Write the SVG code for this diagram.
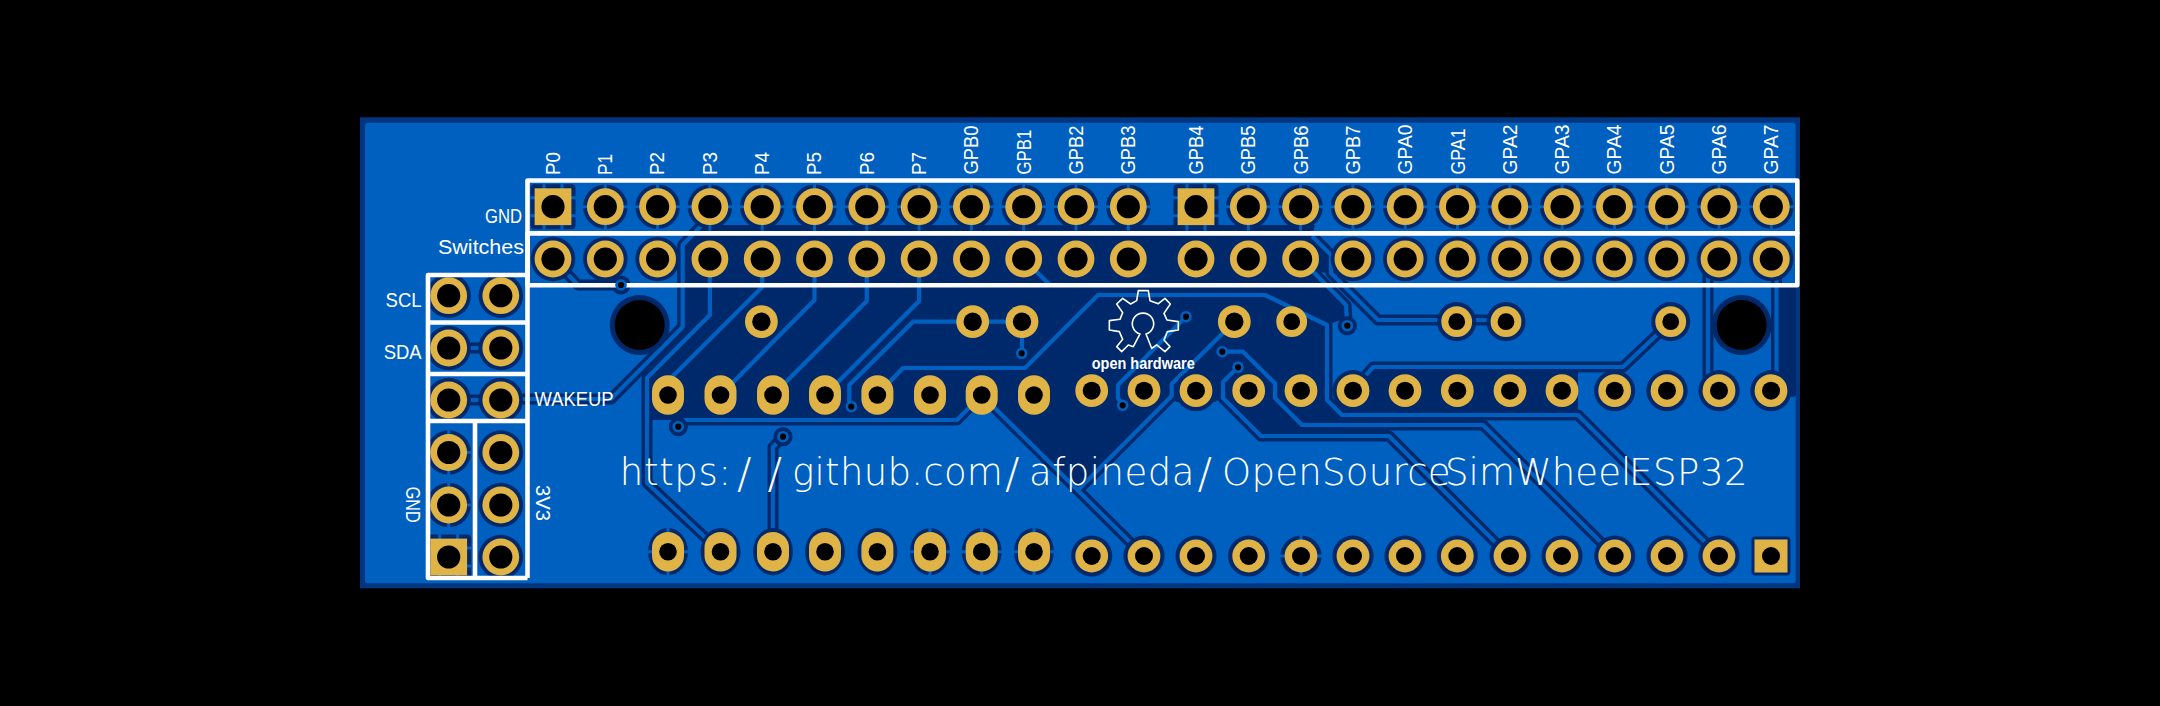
<svg xmlns="http://www.w3.org/2000/svg" width="2160" height="706" viewBox="0 0 2160 706">
<style>
.d{fill:#00296B}
.l{stroke:#0060BF;stroke-width:3;fill:none}
.pad{fill:#DFB346}
.h{fill:#000}
.w{fill:none;stroke:#fff;stroke-width:4.6;stroke-linejoin:round}
text{fill:#fff;font-family:"Liberation Sans",Arial,sans-serif}
.s{font-size:20px}
.u{font-family:"DejaVu Sans",sans-serif;font-weight:200;font-size:37px}
.oh{font-size:16px;font-weight:700}
.sl{font-size:43px}
</style>
<defs>
<g id="ringT"><circle r="22.3" class="d"/><path class="l" d="M-24 0H24M0-24V24"/></g>
<g id="ringF"><circle r="22.3" class="d"/></g>
<g id="ringM"><circle r="20.6" class="d"/></g>
<g id="ringMT"><circle r="20.6" class="d"/><path class="l" d="M-22 0H22M0-22V22"/></g>
<g id="ringO"><ellipse rx="20" ry="23.7" class="d"/></g>
<g id="ringOT"><ellipse rx="20" ry="23.7" class="d"/><path class="l" d="M-22 0H22M0-26V26"/></g>
<g id="ringS"><rect x="-22.5" y="-22.5" width="45" height="45" rx="4" class="d"/><path class="l" d="M-24-9H24M-24 9H24M-9-24V24M9-24V24" /></g>
<g id="ringV"><circle r="19.6" class="d"/></g>
<g id="big"><circle r="18.4" class="pad"/><circle r="11.6" class="h"/></g>
<g id="sq"><rect x="-18.4" y="-18.4" width="36.8" height="36.8" class="pad"/><circle r="11.6" class="h"/></g>
<g id="mid"><circle r="16.4" class="pad"/><circle r="9.2" class="h"/></g>
<g id="mid2"><circle r="15.4" class="pad"/><circle r="8.4" class="h"/></g>
<g id="oval"><rect x="-16" y="-19.8" width="32" height="39.6" rx="16" class="pad"/><circle r="8.8" class="h"/></g>
<g id="rnd"><circle r="16.4" class="pad"/><circle r="9" class="h"/></g>
<g id="via"><circle r="5.8" fill="#0060BF"/><circle r="3.1" class="h"/></g>
<g id="viaR"><circle r="9.6" class="d"/></g>
<g id="tr" fill="none" stroke-linejoin="round">
<path d="M709.9 259V315L647 378V483L720.5 551.7"/>
<path d="M701 226L682.7 245V327L611 399H500.8"/>
<path d="M762.2 259V287L668 381"/>
<path d="M814.5 259V300L720.5 395"/>
<path d="M866.8 259V301L773 395"/>
<path d="M919.1 259V301L825 395"/>
<path d="M1022 321.7H913L849.3 385V402L851.3 406.7"/>
<path d="M877.4 395L903 368H1025L1098 295H1265L1327 325V400L1342 415H1578L1719 556"/>
<path d="M1312 236L1331 255V273L1378 320H1506"/>
<path d="M1300.6 259L1346 305L1347.3 325.7"/>
<path d="M1023.7 259L1050 285"/>
<path d="M1238 367L1223 382V398L1261 436H1389L1509 556"/>
<path d="M1222.3 351.7H1243L1275 383.3V398L1302 425H1483L1614.7 556"/>
<path d="M678.3 426.7L685 420H957L981.7 395"/>
<path d="M783 436.7L773 447V551.7"/>
<path d="M981.7 395L1144 556"/>
<path d="M1234.3 321.7L1171.7 384V396L1079 489"/>
<path d="M1186 316.7L1118 385V398L1122.7 405.3"/>
<path d="M1022 321.7V353.3"/>
<path d="M1353 390.7L1373 367H1623L1670.7 321.7"/>
<path d="M1719 259L1708 270V380L1719 390.7"/>
<path d="M1771 259L1776.5 265V385L1771 390.7"/>
<path d="M553 259L578 285H621"/>
<path d="M448.7 348H500.8"/>
<path d="M448.7 400H500.8"/>
</g>
</defs>
<rect width="2160" height="706" fill="#000"/>
<g id="board">
<rect x="360" y="117.3" width="1440" height="471" fill="#00357F"/>
<rect x="365" y="122.7" width="1430.7" height="460.6" rx="3" fill="#0060BF"/>
<path class="d" d="M701 225L682.7 245V327L650 360L647 378V420H957L972 405H990L1076.5 490.5L1172 396L1176 402H1215L1223 398L1256 436H1389V420H1342L1327 400V325L1346 318V306L1312 272L1331 273V255L1312 236L1315 225Z"/>
<path class="d" d="M1368 371H1578V412H1345V395Z"/>
<rect x="1780" y="285" width="16" height="112" rx="3" class="d"/>
</g>
<g id="connectors">
<use href="#tr" stroke="#00296B" stroke-width="11"/>
<use href="#tr" stroke="#0060BF" stroke-width="4.2"/>
</g>
<g id="clearances">
<use href="#ringS" x="553" y="206.7"/>
<use href="#ringT" x="605.3" y="206.7"/><use href="#ringT" x="657.6" y="206.7"/><use href="#ringT" x="709.9" y="206.7"/><use href="#ringT" x="762.2" y="206.7"/><use href="#ringT" x="814.5" y="206.7"/><use href="#ringT" x="866.8" y="206.7"/><use href="#ringT" x="919.1" y="206.7"/><use href="#ringT" x="971.4" y="206.7"/><use href="#ringT" x="1023.7" y="206.7"/><use href="#ringT" x="1076" y="206.7"/><use href="#ringT" x="1128.3" y="206.7"/>
<use href="#ringS" x="1196" y="206.7"/>
<use href="#ringT" x="1248.3" y="206.7"/><use href="#ringT" x="1300.6" y="206.7"/><use href="#ringT" x="1352.9" y="206.7"/><use href="#ringT" x="1405.2" y="206.7"/><use href="#ringT" x="1457.5" y="206.7"/><use href="#ringT" x="1509.8" y="206.7"/><use href="#ringT" x="1562.1" y="206.7"/><use href="#ringT" x="1614.4" y="206.7"/><use href="#ringT" x="1666.7" y="206.7"/><use href="#ringT" x="1719" y="206.7"/><use href="#ringT" x="1771.3" y="206.7"/>
<use href="#ringF" x="553" y="259"/><use href="#ringF" x="605.3" y="259"/><use href="#ringF" x="657.6" y="259"/>
<use href="#ringF" x="1352.9" y="259"/><use href="#ringF" x="1405.2" y="259"/><use href="#ringF" x="1457.5" y="259"/><use href="#ringF" x="1509.8" y="259"/><use href="#ringF" x="1562.1" y="259"/><use href="#ringF" x="1614.4" y="259"/><use href="#ringF" x="1666.7" y="259"/><use href="#ringF" x="1719" y="259"/><use href="#ringF" x="1771.3" y="259"/>
<use href="#ringF" x="448.7" y="295.7"/><use href="#ringF" x="500.8" y="295.7"/><use href="#ringF" x="448.7" y="348"/><use href="#ringF" x="500.8" y="348"/><use href="#ringF" x="448.7" y="400"/><use href="#ringF" x="500.8" y="400"/>
<use href="#ringT" x="448.7" y="452.5"/><use href="#ringT" x="448.7" y="505"/><use href="#ringS" x="448.7" y="557"/>
<use href="#ringF" x="500.8" y="452.5"/><use href="#ringF" x="500.8" y="505"/><use href="#ringF" x="500.8" y="557"/>
<use href="#ringV" x="1456.7" y="321.7"/><use href="#ringV" x="1506" y="321.7"/><use href="#ringV" x="1670.7" y="321.7"/>
<use href="#ringM" x="1196" y="390.7"/><use href="#ringM" x="1353" y="390.7"/><use href="#ringM" x="1614.7" y="390.7"/><use href="#ringM" x="1667" y="390.7"/><use href="#ringM" x="1719" y="390.7"/><use href="#ringM" x="1771" y="390.7"/>
<use href="#ringOT" x="668" y="551.7"/><use href="#ringO" x="720.5" y="551.7"/><use href="#ringO" x="773" y="551.7"/><use href="#ringO" x="825" y="551.7"/><use href="#ringO" x="877.4" y="551.7"/><use href="#ringOT" x="930" y="551.7"/><use href="#ringOT" x="981.7" y="551.7"/><use href="#ringOT" x="1034" y="551.7"/>
<use href="#ringM" x="1091.7" y="556"/><use href="#ringM" x="1144" y="556"/><use href="#ringM" x="1196" y="556"/><use href="#ringM" x="1248.7" y="556"/><use href="#ringMT" x="1301" y="556"/><use href="#ringM" x="1353" y="556"/><use href="#ringM" x="1405" y="556"/><use href="#ringM" x="1457.3" y="556"/><use href="#ringM" x="1510" y="556"/><use href="#ringM" x="1562" y="556"/><use href="#ringM" x="1614.7" y="556"/><use href="#ringM" x="1667" y="556"/><use href="#ringM" x="1719" y="556"/>
<rect x="1751.5" y="536.5" width="39" height="39" rx="4" class="d"/>
<circle cx="639.7" cy="325" r="30" class="d"/><circle cx="1741.7" cy="325" r="30" class="d"/>
<use href="#viaR" x="621" y="285"/><use href="#viaR" x="678.3" y="426.7"/><use href="#viaR" x="783" y="436.7"/><use href="#viaR" x="1347.3" y="325.7"/>
</g>
<g id="frames">
<rect class="w" x="527.5" y="180.5" width="1269.8" height="52.8"/>
<rect class="w" x="527.5" y="233.3" width="1269.8" height="52"/>
<path class="w" d="M527.5 275H428V578H527.5M428 322.5H527.5M428 374H527.5M428 421H527.5M475 421V578"/>
<path class="w" d="M527.5 233V578"/>
</g>
<g id="pads">
<use href="#sq" x="553" y="206.7"/>
<use href="#big" x="605.3" y="206.7"/><use href="#big" x="657.6" y="206.7"/><use href="#big" x="709.9" y="206.7"/><use href="#big" x="762.2" y="206.7"/><use href="#big" x="814.5" y="206.7"/><use href="#big" x="866.8" y="206.7"/><use href="#big" x="919.1" y="206.7"/><use href="#big" x="971.4" y="206.7"/><use href="#big" x="1023.7" y="206.7"/><use href="#big" x="1076" y="206.7"/><use href="#big" x="1128.3" y="206.7"/>
<use href="#sq" x="1196" y="206.7"/>
<use href="#big" x="1248.3" y="206.7"/><use href="#big" x="1300.6" y="206.7"/><use href="#big" x="1352.9" y="206.7"/><use href="#big" x="1405.2" y="206.7"/><use href="#big" x="1457.5" y="206.7"/><use href="#big" x="1509.8" y="206.7"/><use href="#big" x="1562.1" y="206.7"/><use href="#big" x="1614.4" y="206.7"/><use href="#big" x="1666.7" y="206.7"/><use href="#big" x="1719" y="206.7"/><use href="#big" x="1771.3" y="206.7"/>
<use href="#big" x="553" y="259"/><use href="#big" x="605.3" y="259"/><use href="#big" x="657.6" y="259"/><use href="#big" x="709.9" y="259"/><use href="#big" x="762.2" y="259"/><use href="#big" x="814.5" y="259"/><use href="#big" x="866.8" y="259"/><use href="#big" x="919.1" y="259"/><use href="#big" x="971.4" y="259"/><use href="#big" x="1023.7" y="259"/><use href="#big" x="1076" y="259"/><use href="#big" x="1128.3" y="259"/><use href="#big" x="1196" y="259"/><use href="#big" x="1248.3" y="259"/><use href="#big" x="1300.6" y="259"/><use href="#big" x="1352.9" y="259"/><use href="#big" x="1405.2" y="259"/><use href="#big" x="1457.5" y="259"/><use href="#big" x="1509.8" y="259"/><use href="#big" x="1562.1" y="259"/><use href="#big" x="1614.4" y="259"/><use href="#big" x="1666.7" y="259"/><use href="#big" x="1719" y="259"/><use href="#big" x="1771.3" y="259"/>
<use href="#big" x="448.7" y="295.7"/><use href="#big" x="500.8" y="295.7"/><use href="#big" x="448.7" y="348"/><use href="#big" x="500.8" y="348"/><use href="#big" x="448.7" y="400"/><use href="#big" x="500.8" y="400"/><use href="#big" x="448.7" y="452.5"/><use href="#big" x="500.8" y="452.5"/><use href="#big" x="448.7" y="505"/><use href="#big" x="500.8" y="505"/><use href="#sq" x="448.7" y="557"/><use href="#big" x="500.8" y="557"/>
<use href="#mid" x="761.4" y="321.7"/><use href="#mid" x="972.7" y="321.7"/><use href="#mid" x="1022" y="321.7"/><use href="#mid" x="1234.3" y="321.7"/><use href="#mid2" x="1291.7" y="321.7"/><use href="#mid2" x="1456.7" y="321.7"/><use href="#mid2" x="1506" y="321.7"/><use href="#mid2" x="1670.7" y="321.7"/>
<use href="#oval" x="668" y="395"/><use href="#oval" x="720.5" y="395"/><use href="#oval" x="773" y="395"/><use href="#oval" x="825" y="395"/><use href="#oval" x="877.4" y="395"/><use href="#oval" x="930" y="395"/><use href="#oval" x="981.7" y="395"/><use href="#oval" x="1034" y="395"/>
<use href="#rnd" x="1091.7" y="390.7"/><use href="#rnd" x="1144" y="390.7"/><use href="#rnd" x="1196" y="390.7"/><use href="#rnd" x="1248.7" y="390.7"/><use href="#rnd" x="1301" y="390.7"/><use href="#rnd" x="1353" y="390.7"/><use href="#rnd" x="1405" y="390.7"/><use href="#rnd" x="1457.3" y="390.7"/><use href="#rnd" x="1510" y="390.7"/><use href="#rnd" x="1562" y="390.7"/><use href="#rnd" x="1614.7" y="390.7"/><use href="#rnd" x="1667" y="390.7"/><use href="#rnd" x="1719" y="390.7"/><use href="#rnd" x="1771" y="390.7"/>
<use href="#oval" x="668" y="551.7"/><use href="#oval" x="720.5" y="551.7"/><use href="#oval" x="773" y="551.7"/><use href="#oval" x="825" y="551.7"/><use href="#oval" x="877.4" y="551.7"/><use href="#oval" x="930" y="551.7"/><use href="#oval" x="981.7" y="551.7"/><use href="#oval" x="1034" y="551.7"/>
<use href="#rnd" x="1091.7" y="556"/><use href="#rnd" x="1144" y="556"/><use href="#rnd" x="1196" y="556"/><use href="#rnd" x="1248.7" y="556"/><use href="#rnd" x="1301" y="556"/><use href="#rnd" x="1353" y="556"/><use href="#rnd" x="1405" y="556"/><use href="#rnd" x="1457.3" y="556"/><use href="#rnd" x="1510" y="556"/><use href="#rnd" x="1562" y="556"/><use href="#rnd" x="1614.7" y="556"/><use href="#rnd" x="1667" y="556"/><use href="#rnd" x="1719" y="556"/>
<rect x="1754.5" y="539.5" width="33" height="33" class="pad"/><circle cx="1771" cy="556" r="9" class="h"/>
<circle cx="639.7" cy="325" r="25" class="h"/><circle cx="1741.7" cy="325" r="25" class="h"/>
<use href="#via" x="621" y="285"/><use href="#via" x="678.3" y="426.7"/><use href="#via" x="783" y="436.7"/><use href="#via" x="851.3" y="406.7"/><use href="#via" x="1186" y="316.7"/><use href="#via" x="1347.3" y="325.7"/><use href="#via" x="1021.7" y="353.3"/><use href="#via" x="1122.7" y="405.3"/><use href="#via" x="1222.3" y="351.7"/><use href="#via" x="1238" y="367.3"/>
</g>
<g id="logo">
<path transform="translate(1090 280) scale(.3333)" fill="none" stroke="#fff" stroke-width="4.8" stroke-linejoin="round" d="M145 32H175L180 62L205 71L225 55L241 72L222 100L231 120L265 125V150L232 155L222 180L240 200L225 215L200 195L185 205L168 162A32 32 0 1 0 150 162L130 200L115 195L95 215L80 200L98 178L88 155L58 150V122L90 118L98 98L80 72L98 55L122 72L140 62Z"/>
<text class="oh" x="1091.7" y="369.3" textLength="103" lengthAdjust="spacingAndGlyphs">open hardware</text>
</g>
<g id="labels">
<text class="s" transform="translate(559.7 175) rotate(-90)" textLength="23" lengthAdjust="spacingAndGlyphs">P0</text>
<text class="s" transform="translate(612 175) rotate(-90)" textLength="21" lengthAdjust="spacingAndGlyphs">P1</text>
<text class="s" transform="translate(664.3 175) rotate(-90)" textLength="23" lengthAdjust="spacingAndGlyphs">P2</text>
<text class="s" transform="translate(716.6 175) rotate(-90)" textLength="23" lengthAdjust="spacingAndGlyphs">P3</text>
<text class="s" transform="translate(768.9 175) rotate(-90)" textLength="23" lengthAdjust="spacingAndGlyphs">P4</text>
<text class="s" transform="translate(821.2 175) rotate(-90)" textLength="23" lengthAdjust="spacingAndGlyphs">P5</text>
<text class="s" transform="translate(873.5 175) rotate(-90)" textLength="23" lengthAdjust="spacingAndGlyphs">P6</text>
<text class="s" transform="translate(925.8 175) rotate(-90)" textLength="23" lengthAdjust="spacingAndGlyphs">P7</text>
<text class="s" transform="translate(978.3 174.5) rotate(-90)" textLength="49" lengthAdjust="spacingAndGlyphs">GPB0</text>
<text class="s" transform="translate(1030.5 174.5) rotate(-90)" textLength="45" lengthAdjust="spacingAndGlyphs">GPB1</text>
<text class="s" transform="translate(1082.8 174.5) rotate(-90)" textLength="49" lengthAdjust="spacingAndGlyphs">GPB2</text>
<text class="s" transform="translate(1135 174.5) rotate(-90)" textLength="49" lengthAdjust="spacingAndGlyphs">GPB3</text>
<text class="s" transform="translate(1203 174.5) rotate(-90)" textLength="49" lengthAdjust="spacingAndGlyphs">GPB4</text>
<text class="s" transform="translate(1255.3 174.5) rotate(-90)" textLength="49" lengthAdjust="spacingAndGlyphs">GPB5</text>
<text class="s" transform="translate(1307.6 174.5) rotate(-90)" textLength="49" lengthAdjust="spacingAndGlyphs">GPB6</text>
<text class="s" transform="translate(1359.9 174.5) rotate(-90)" textLength="49" lengthAdjust="spacingAndGlyphs">GPB7</text>
<text class="s" transform="translate(1412.2 174.5) rotate(-90)" textLength="50" lengthAdjust="spacingAndGlyphs">GPA0</text>
<text class="s" transform="translate(1464.5 174.5) rotate(-90)" textLength="46" lengthAdjust="spacingAndGlyphs">GPA1</text>
<text class="s" transform="translate(1516.8 174.5) rotate(-90)" textLength="50" lengthAdjust="spacingAndGlyphs">GPA2</text>
<text class="s" transform="translate(1569.1 174.5) rotate(-90)" textLength="50" lengthAdjust="spacingAndGlyphs">GPA3</text>
<text class="s" transform="translate(1621.4 174.5) rotate(-90)" textLength="50" lengthAdjust="spacingAndGlyphs">GPA4</text>
<text class="s" transform="translate(1673.7 174.5) rotate(-90)" textLength="50" lengthAdjust="spacingAndGlyphs">GPA5</text>
<text class="s" transform="translate(1726 174.5) rotate(-90)" textLength="50" lengthAdjust="spacingAndGlyphs">GPA6</text>
<text class="s" transform="translate(1778.3 174.5) rotate(-90)" textLength="50" lengthAdjust="spacingAndGlyphs">GPA7</text>
<text class="s" x="485" y="223" textLength="37" lengthAdjust="spacingAndGlyphs">GND</text>
<text class="s" x="438" y="254.3" textLength="86" lengthAdjust="spacingAndGlyphs">Switches</text>
<text class="s" x="385.6" y="306.7" textLength="36" lengthAdjust="spacingAndGlyphs">SCL</text>
<text class="s" x="383.7" y="359" textLength="38" lengthAdjust="spacingAndGlyphs">SDA</text>
<text class="s" x="534.5" y="405.7" textLength="79" lengthAdjust="spacingAndGlyphs">WAKEUP</text>
<text class="s" transform="translate(405.5 486.7) rotate(90)" textLength="36" lengthAdjust="spacingAndGlyphs">GND</text>
<text class="s" transform="translate(535.6 485) rotate(90)" textLength="36" lengthAdjust="spacingAndGlyphs">3V3</text>
<text class="u" y="485"><tspan x="619.8" letter-spacing=".7">https:</tspan><tspan class="sl" x="737" y="488">/</tspan><tspan class="sl" x="767.5" y="488">/</tspan><tspan x="792" y="485" letter-spacing=".3">github.com</tspan><tspan class="sl" x="1005" y="488">/</tspan><tspan x="1029" y="485" letter-spacing=".5">afpineda</tspan><tspan class="sl" x="1197.5" y="488">/</tspan><tspan x="1222" y="485" letter-spacing=".3">OpenSource</tspan><tspan x="1445" y="485" letter-spacing=".1">SimWheel</tspan><tspan x="1629" y="485" letter-spacing=".6">ESP32</tspan></text>
</g>
</svg>
